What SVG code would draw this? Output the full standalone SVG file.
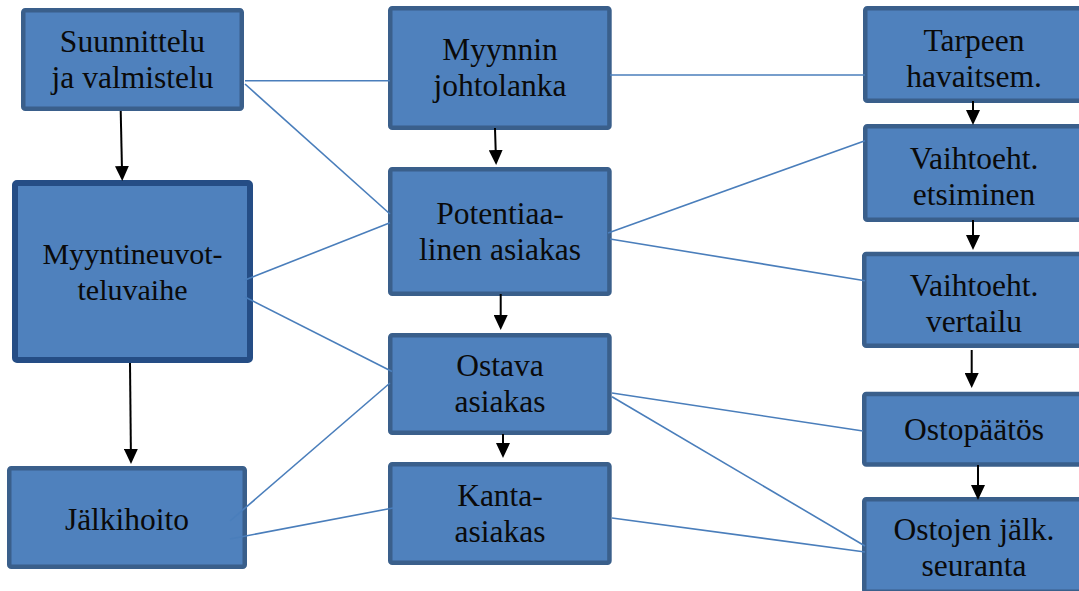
<svg xmlns="http://www.w3.org/2000/svg" width="1079" height="591" viewBox="0 0 1079 591">
  <style>
    .box { fill: #4f81bd; stroke: #3a5f8b; stroke-width: 4.5; }
    .box.main { stroke: #254d85; stroke-width: 6; }
    .lbl { font-family: "Liberation Serif", "Times New Roman", serif; font-size: 31.5px; fill: #0a0a0a; text-anchor: middle; }
    .lbl.sm { font-size: 30px; }
    .link { stroke: #4a7ebb; stroke-width: 1.6; fill: none; }
    .flow { stroke: #000; stroke-width: 2; fill: none; marker-end: url(#head); }
  </style>
  <defs>
    <marker id="head" markerUnits="userSpaceOnUse" markerWidth="15" markerHeight="14" refX="4" refY="7" orient="auto">
      <path d="M0,0 L15,7 L0,14 z" fill="#000"/>
    </marker>
  </defs>

  <rect width="1079" height="591" fill="#fff"/>

  <!-- seller side -->
  <g id="suunnittelu">
    <rect class="box" x="23.25" y="10.25" width="218.5" height="98.5" rx="2"/>
    <text class="lbl" x="132.5" y="52">Suunnittelu</text>
    <text class="lbl" x="132.5" y="88">ja valmistelu</text>
  </g>
  <g id="myyntineuvottelu">
    <rect class="box main" x="15" y="183" width="235" height="177" rx="2"/>
    <text class="lbl sm" x="132.5" y="264">Myyntineuvot-</text>
    <text class="lbl sm" x="132.5" y="300">teluvaihe</text>
  </g>
  <g id="jalkihoito">
    <rect class="box" x="9.25" y="468.25" width="235.5" height="98.5" rx="2"/>
    <text class="lbl" x="127" y="530">Jälkihoito</text>
  </g>

  <!-- customer stages -->
  <g id="myynnin-johtolanka">
    <rect class="box" x="390.25" y="8.25" width="219.2" height="119.5" rx="2"/>
    <text class="lbl" x="500" y="60">Myynnin</text>
    <text class="lbl" x="500" y="96">johtolanka</text>
  </g>
  <g id="potentiaalinen">
    <rect class="box" x="390.25" y="169.25" width="219.2" height="124.5" rx="2"/>
    <text class="lbl" x="500" y="223.5">Potentiaa-</text>
    <text class="lbl" x="500" y="259.5">linen asiakas</text>
  </g>
  <g id="ostava">
    <rect class="box" x="390.25" y="335.25" width="219.2" height="97.5" rx="2"/>
    <text class="lbl" x="500" y="376">Ostava</text>
    <text class="lbl" x="500" y="412">asiakas</text>
  </g>
  <g id="kanta-asiakas">
    <rect class="box" x="390.25" y="464.25" width="219.2" height="98.5" rx="2"/>
    <text class="lbl" x="500" y="505.5">Kanta-</text>
    <text class="lbl" x="500" y="541.5">asiakas</text>
  </g>

  <!-- buyer process -->
  <g id="tarpeen-havaitseminen">
    <rect class="box" x="865.25" y="8.25" width="218.5" height="92.5" rx="2"/>
    <text class="lbl" x="974" y="50.5">Tarpeen</text>
    <text class="lbl" x="974" y="86.5">havaitsem.</text>
  </g>
  <g id="vaihtoehtojen-etsiminen">
    <rect class="box" x="865.25" y="126.25" width="218.5" height="93.5" rx="2"/>
    <text class="lbl" x="974" y="169">Vaihtoeht.</text>
    <text class="lbl" x="974" y="205">etsiminen</text>
  </g>
  <g id="vaihtoehtojen-vertailu">
    <rect class="box" x="864.25" y="253.95" width="219.5" height="91.8" rx="2"/>
    <text class="lbl" x="974" y="296">Vaihtoeht.</text>
    <text class="lbl" x="974" y="332">vertailu</text>
  </g>
  <g id="ostopaatos">
    <rect class="box" x="864.25" y="393.95" width="219.5" height="70.5" rx="2"/>
    <text class="lbl" x="974" y="440">Ostopäätös</text>
  </g>
  <g id="ostojen-seuranta">
    <rect class="box" x="864.25" y="499.25" width="219.5" height="92.5" rx="2"/>
    <text class="lbl" x="974" y="540">Ostojen jälk.</text>
    <text class="lbl" x="974" y="576">seuranta</text>
  </g>

  <g id="connectors">
    <!-- correspondence links -->
    <line class="link" x1="245" y1="80.7" x2="390" y2="80.7"/>
    <line class="link" x1="245" y1="84" x2="390" y2="214"/>
    <line class="link" x1="245" y1="280" x2="390" y2="222.7"/>
    <line class="link" x1="245" y1="297" x2="392" y2="371.5"/>
    <line class="link" x1="230" y1="521" x2="390" y2="383"/>
    <line class="link" x1="230" y1="539" x2="393" y2="508"/>
    <line class="link" x1="610" y1="75" x2="865" y2="75"/>
    <line class="link" x1="608" y1="233" x2="865" y2="140.7"/>
    <line class="link" x1="610" y1="239" x2="865" y2="280.7"/>
    <line class="link" x1="612" y1="393" x2="863" y2="431"/>
    <line class="link" x1="612" y1="396.7" x2="865" y2="546"/>
    <line class="link" x1="612" y1="518" x2="865" y2="552"/>

    <!-- sequence arrows (tip 11px beyond line end) -->
    <line class="flow" x1="120.7" y1="111" x2="122" y2="170"/>
    <line class="flow" x1="130" y1="363" x2="130.9" y2="453"/>
    <line class="flow" x1="495" y1="128" x2="495.8" y2="154"/>
    <line class="flow" x1="500.7" y1="294" x2="500.7" y2="319"/>
    <line class="flow" x1="503" y1="434" x2="503" y2="447"/>
    <line class="flow" x1="973" y1="101" x2="973" y2="114"/>
    <line class="flow" x1="973" y1="220" x2="973" y2="239"/>
    <line class="flow" x1="971.7" y1="350" x2="971.7" y2="377"/>
    <line class="flow" x1="978" y1="465" x2="978" y2="489"/>
  </g>
</svg>
